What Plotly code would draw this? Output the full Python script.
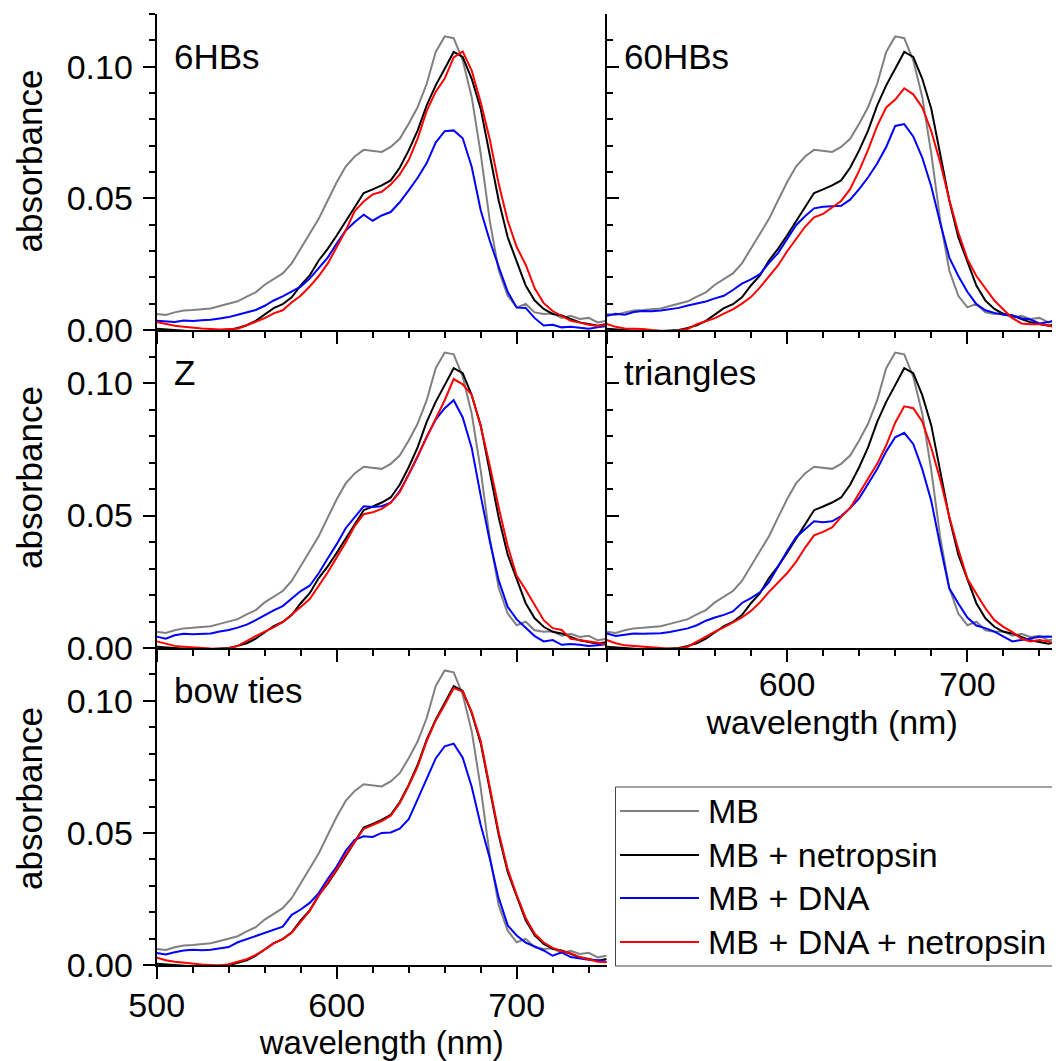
import plotly.graph_objects as go

# ---------------- data ----------------
wavelength = list(range(500, 751, 5))  # nm sampling grid

# shared controls (identical in every panel)
mb = [0.0061, 0.0057, 0.0067, 0.0074, 0.0076, 0.0079, 0.0082, 0.0091, 0.0101, 0.0109,
      0.0127, 0.0143, 0.0172, 0.0194, 0.0215, 0.0253, 0.0308, 0.0365, 0.0422, 0.0492,
      0.0561, 0.0621, 0.0659, 0.0684, 0.0679, 0.0676, 0.0695, 0.0726, 0.0783, 0.0847,
      0.0935, 0.1056, 0.1115, 0.1108, 0.1024, 0.0885, 0.0670, 0.0416, 0.0226, 0.0130,
      0.0086, 0.0099, 0.0067, 0.0061, 0.0063, 0.0046, 0.0054, 0.0042, 0.0046, 0.0029,
      0.0035]
mb_netropsin = [0.0005, 0.0002, 0.0000, -0.0002, -0.0005, -0.0006, -0.0004, -0.0003, 0.0000, 0.0008,
                0.0018, 0.0035, 0.0060, 0.0083, 0.0098, 0.0124, 0.0169, 0.0207, 0.0264, 0.0308,
                0.0359, 0.0413, 0.0466, 0.0520, 0.0534, 0.0549, 0.0568, 0.0616, 0.0682, 0.0758,
                0.0853, 0.0929, 0.0992, 0.1056, 0.1037, 0.0954, 0.0840, 0.0669, 0.0492, 0.0352,
                0.0257, 0.0169, 0.0112, 0.0080, 0.0061, 0.0055, 0.0042, 0.0029, 0.0023, 0.0016,
                0.0023]

# 6HBs
dna_6hb = [0.0035, 0.0032, 0.0030, 0.0036, 0.0034, 0.0037, 0.0039, 0.0044, 0.0049, 0.0058,
           0.0066, 0.0076, 0.0092, 0.0112, 0.0128, 0.0148, 0.0165, 0.0195, 0.0235, 0.0275,
           0.0328, 0.0378, 0.0410, 0.0438, 0.0415, 0.0435, 0.0448, 0.0485, 0.0530, 0.0578,
           0.0634, 0.0712, 0.0755, 0.0758, 0.0728, 0.0620, 0.0455, 0.0340, 0.0240, 0.0145,
           0.0085, 0.0084, 0.0045, 0.0017, 0.0020, 0.0010, 0.0012, 0.0008, 0.0005, 0.0010,
           0.0015]
dna_net_6hb = [0.0030, 0.0022, 0.0016, 0.0012, 0.0008, 0.0006, 0.0004, 0.0002, 0.0004, 0.0005,
               0.0018, 0.0030, 0.0045, 0.0063, 0.0075, 0.0105, 0.0130, 0.0165, 0.0205, 0.0252,
               0.0318, 0.0378, 0.0452, 0.0488, 0.0515, 0.0525, 0.0552, 0.0590, 0.0645, 0.0728,
               0.0832, 0.0905, 0.0955, 0.1035, 0.1058, 0.0985, 0.0865, 0.0725, 0.0555, 0.0415,
               0.0315, 0.0248, 0.0158, 0.0102, 0.0072, 0.0055, 0.0035, 0.0028, 0.0020, 0.0015,
               0.0020]
# 60HBs
dna_60hb = [0.0054, 0.0062, 0.0058, 0.0068, 0.0072, 0.0071, 0.0074, 0.0078, 0.0084, 0.0093,
            0.0101, 0.0108, 0.0120, 0.0130, 0.0152, 0.0176, 0.0192, 0.0212, 0.0255, 0.0292,
            0.0345, 0.0398, 0.0432, 0.0462, 0.0468, 0.0470, 0.0472, 0.0495, 0.0535, 0.0580,
            0.0632, 0.0695, 0.0775, 0.0782, 0.0735, 0.0655, 0.0545, 0.0405, 0.0275, 0.0205,
            0.0145, 0.0098, 0.0075, 0.0065, 0.0058, 0.0055, 0.0045, 0.0040, 0.0025, 0.0030,
            0.0040]
dna_net_60hb = [0.0023, 0.0012, 0.0006, 0.0005, 0.0004, 0.0000, -0.0004, -0.0006, -0.0002, 0.0004,
                0.0022, 0.0035, 0.0045, 0.0062, 0.0078, 0.0100, 0.0125, 0.0162, 0.0205, 0.0245,
                0.0298, 0.0345, 0.0392, 0.0428, 0.0441, 0.0465, 0.0490, 0.0535, 0.0605, 0.0685,
                0.0775, 0.0845, 0.0875, 0.0918, 0.0895, 0.0845, 0.0755, 0.0635, 0.0495, 0.0370,
                0.0270, 0.0205, 0.0160, 0.0112, 0.0078, 0.0045, 0.0025, 0.0022, 0.0022, 0.0018,
                0.0004]
# Z
dna_z = [0.0043, 0.0035, 0.0048, 0.0054, 0.0052, 0.0053, 0.0055, 0.0062, 0.0068, 0.0077,
         0.0088, 0.0105, 0.0125, 0.0142, 0.0158, 0.0185, 0.0215, 0.0235, 0.0282, 0.0338,
         0.0392, 0.0452, 0.0495, 0.0535, 0.0532, 0.0535, 0.0548, 0.0592, 0.0655, 0.0722,
         0.0797, 0.0862, 0.0905, 0.0935, 0.0870, 0.0755, 0.0575, 0.0405, 0.0255, 0.0155,
         0.0108, 0.0075, 0.0045, 0.0025, 0.0030, 0.0012, 0.0015, 0.0012, 0.0008, 0.0010,
         0.0015]
dna_net_z = [0.0025, 0.0015, 0.0008, 0.0005, 0.0002, 0.0000, -0.0002, -0.0003, -0.0002, 0.0008,
             0.0028, 0.0045, 0.0062, 0.0078, 0.0098, 0.0125, 0.0155, 0.0185, 0.0235, 0.0285,
             0.0342, 0.0398, 0.0460, 0.0505, 0.0512, 0.0525, 0.0548, 0.0588, 0.0655, 0.0725,
             0.0792, 0.0865, 0.0935, 0.1015, 0.0995, 0.0955, 0.0838, 0.0690, 0.0530, 0.0385,
             0.0272, 0.0220, 0.0160, 0.0105, 0.0075, 0.0068, 0.0035, 0.0030, 0.0025, 0.0020,
             0.0012]
# triangles
dna_tri = [0.0055, 0.0045, 0.0050, 0.0055, 0.0054, 0.0055, 0.0056, 0.0060, 0.0066, 0.0074,
           0.0086, 0.0103, 0.0115, 0.0125, 0.0138, 0.0170, 0.0188, 0.0210, 0.0248, 0.0308,
           0.0365, 0.0418, 0.0448, 0.0478, 0.0475, 0.0478, 0.0498, 0.0528, 0.0565, 0.0618,
           0.0675, 0.0742, 0.0795, 0.0812, 0.0770, 0.0675, 0.0555, 0.0385, 0.0225, 0.0168,
           0.0115, 0.0085, 0.0075, 0.0062, 0.0045, 0.0025, 0.0030, 0.0035, 0.0042, 0.0043,
           0.0042]
dna_net_tri = [0.0030, 0.0018, 0.0010, 0.0008, 0.0005, 0.0002, 0.0000, -0.0003, -0.0002, 0.0005,
               0.0025, 0.0045, 0.0062, 0.0078, 0.0095, 0.0115, 0.0140, 0.0172, 0.0212, 0.0248,
               0.0282, 0.0325, 0.0378, 0.0425, 0.0438, 0.0455, 0.0495, 0.0528, 0.0585, 0.0638,
               0.0695, 0.0765, 0.0850, 0.0912, 0.0905, 0.0855, 0.0755, 0.0635, 0.0495, 0.0372,
               0.0262, 0.0205, 0.0150, 0.0105, 0.0080, 0.0060, 0.0035, 0.0025, 0.0030, 0.0025,
               0.0012]
# bow ties
dna_bow = [0.0045, 0.0040, 0.0048, 0.0055, 0.0058, 0.0056, 0.0058, 0.0062, 0.0068, 0.0086,
           0.0098, 0.0110, 0.0122, 0.0132, 0.0145, 0.0190, 0.0210, 0.0235, 0.0272, 0.0325,
           0.0373, 0.0432, 0.0474, 0.0487, 0.0485, 0.0500, 0.0502, 0.0516, 0.0552, 0.0628,
           0.0705, 0.0782, 0.0828, 0.0838, 0.0785, 0.0675, 0.0530, 0.0405, 0.0255, 0.0150,
           0.0112, 0.0085, 0.0070, 0.0055, 0.0035, 0.0048, 0.0030, 0.0025, 0.0020, 0.0018,
           0.0012]
dna_net_bow = [0.0028, 0.0018, 0.0012, 0.0008, 0.0005, 0.0002, 0.0000, -0.0002, 0.0003, 0.0012,
               0.0022, 0.0038, 0.0058, 0.0082, 0.0098, 0.0122, 0.0165, 0.0205, 0.0262, 0.0312,
               0.0362, 0.0418, 0.0465, 0.0515, 0.0530, 0.0545, 0.0565, 0.0612, 0.0678, 0.0752,
               0.0848, 0.0925, 0.0985, 0.1048, 0.1035, 0.0958, 0.0848, 0.0678, 0.0502, 0.0362,
               0.0265, 0.0178, 0.0118, 0.0085, 0.0065, 0.0052, 0.0045, 0.0030, 0.0022, 0.0012,
               0.0010]

panel_names = ["6HBs", "60HBs", "Z", "triangles", "bow ties"]
panel_dna = [dna_6hb, dna_60hb, dna_z, dna_tri, dna_bow]
panel_dna_net = [dna_net_6hb, dna_net_60hb, dna_net_z, dna_net_tri, dna_net_bow]

series_names = ["MB", "MB + netropsin", "MB + DNA", "MB + DNA + netropsin"]
series_colors = ["#808080", "#000000", "#0000ff", "#ff0000"]

x_ticks = [500, 600, 700]
y_ticks = [0.00, 0.05, 0.10]

# ---------------- layout geometry ----------------
OFF = 8                      # page body margin
W, H = 1060 - OFF, 1061 - OFF
FONT = "Liberation Sans, Arial, sans-serif"


def px(p):
    return (p - OFF) / W


def py(p):
    return 1 - (p - OFF) / H


col_dom = {"L": [px(156.7), px(606.7)], "R": [px(606.7), px(1057.5)]}
row_dom = {1: [py(330), py(14)], 2: [py(648), py(330)], 3: [py(965), py(648)]}
placement = [("L", 1), ("R", 1), ("L", 2), ("R", 2), ("L", 3)]

fig = go.Figure()
layout = dict(width=W, height=H, margin=dict(l=0, r=0, t=0, b=0, pad=0, autoexpand=False),
              paper_bgcolor="white", plot_bgcolor="white", showlegend=False,
              font=dict(family=FONT, size=34, color="black"))

tickfont = dict(family=FONT, size=34, color="black")
common_x = dict(range=[500, 750], showgrid=False, zeroline=False, showline=True, automargin=False,
                linecolor="black", linewidth=2, tickcolor="black", tickwidth=2, ticklen=12,
                tickmode="array", tickvals=x_ticks)
common_y = dict(range=[0, 0.12], showgrid=False, zeroline=False, showline=True, automargin=False,
                linecolor="black", linewidth=2, tickcolor="black", tickwidth=2, ticklen=12,
                tickmode="array", tickvals=y_ticks, tickformat=".2f")

annotations = []
n = len(panel_names)
for i in range(n):
    k = i + 1
    col, row = placement[i]
    xs = "" if k == 1 else str(k)
    xa, ya = "x" + xs, "y" + xs
    series = [mb, mb_netropsin, panel_dna[i], panel_dna_net[i]]
    for s in range(4):
        fig.add_trace(go.Scatter(x=wavelength, y=series[s], mode="lines", name=series_names[s],
                                 line=dict(color=series_colors[s], width=2),
                                 xaxis=xa, yaxis=ya, showlegend=False))
    # bottom x axis
    show_xlab = (i == 4) or (i == 3)
    xdict = dict(common_x, domain=col_dom[col], anchor=ya, side="bottom", ticks="outside",
                 minor=dict(dtick=20, tick0=500, ticks="outside", ticklen=6, tickwidth=2, tickcolor="black"),
                 showticklabels=show_xlab, tickfont=tickfont,
                 ticklabelstandoff=-7 if i == 3 else -3)
    if i == 3:
        xdict["ticktext"] = ["", "600", "700"]
    if show_xlab:
        xdict["title"] = dict(text="wavelength (nm)", font=dict(family=FONT, size=34 if i == 3 else 33),
                              standoff=6 if i == 3 else 8)
    layout["xaxis" + xs] = xdict
    # left y axis
    ydict = dict(common_y, domain=row_dom[row], anchor=xa, side="left",
                 ticks="outside" if col == "L" else "inside",
                 minor=dict(dtick=0.01, tick0=0, ticks="outside" if col == "L" else "inside",
                            ticklen=6, tickwidth=2, tickcolor="black"),
                 showticklabels=(col == "L"), tickfont=tickfont, ticklabelstandoff=3)
    layout["yaxis" + xs] = ydict
    # mirrored top / right axes with inward ticks
    kt = str(k + n)
    layout["xaxis" + kt] = dict(common_x, overlaying=xa, anchor=ya, side="top", ticks="inside",
                                minor=dict(dtick=20, tick0=500, ticks="inside", ticklen=6, tickwidth=2, tickcolor="black"),
                                showticklabels=False)
    layout["yaxis" + kt] = dict(common_y, overlaying=ya, anchor=xa, side="right", ticks="inside",
                                minor=dict(dtick=0.01, tick0=0, ticks="inside", ticklen=6, tickwidth=2, tickcolor="black"),
                                showticklabels=False)
    # panel label
    annotations.append(dict(text=panel_names[i], xref=xa + " domain", yref=ya + " domain",
                            x=0.033, y=0.934, xanchor="left", yanchor="top", showarrow=False,
                            font=dict(family=FONT, size=35, color="black")))
    # y title for left column
    if col == "L":
        yc = {1: 161.5, 2: 478, 3: 799}[row]
        annotations.append(dict(text="absorbance", xref="paper", yref="paper", x=px(29), y=py(yc),
                                xanchor="center", yanchor="middle", textangle=-90, showarrow=False,
                                font=dict(family=FONT, size=35, color="black")))

# manual legend (long line samples as in the reference)
shapes = [dict(type="rect", xref="paper", yref="paper", x0=px(615.5), x1=px(1059),
               y0=py(966), y1=py(787), line=dict(color="#444444", width=1), fillcolor="white",
               layer="above")]
leg_y = [811, 855, 898, 942]
for s in range(4):
    yy = py(leg_y[s])
    shapes.append(dict(type="line", xref="paper", yref="paper", x0=px(620), x1=px(699), y0=yy, y1=yy,
                       line=dict(color=series_colors[s], width=2), layer="above"))
    annotations.append(dict(text=series_names[s], xref="paper", yref="paper", x=px(706), y=yy,
                            xanchor="left", yanchor="middle", showarrow=False,
                            font=dict(family=FONT, size=34, color="black")))

layout["annotations"] = annotations
layout["shapes"] = shapes
fig.update_layout(**layout)
fig.write_html("out.html")
